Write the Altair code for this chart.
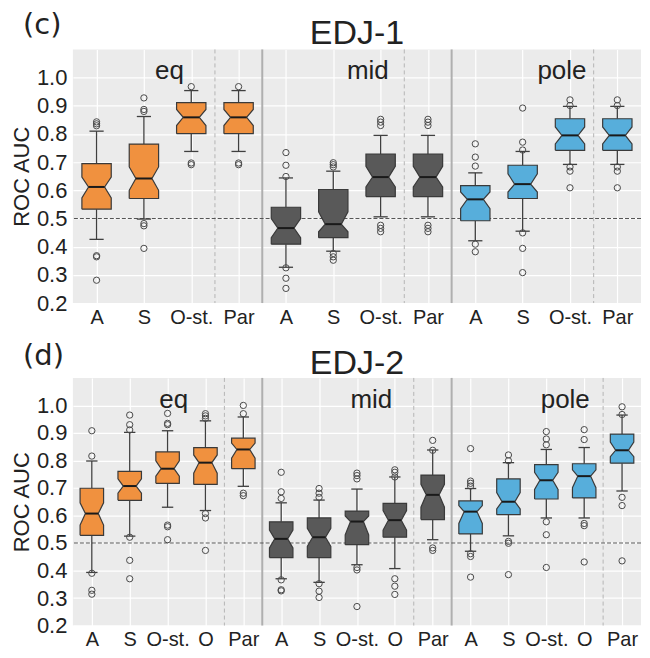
import json
import altair as alt
import pandas as pd

ORANGE = "#F0913F"
DGRAY = "#595959"
BLUE = "#57AEDB"
GROUP_COLORS = {"eq": ORANGE, "mid": DGRAY, "pole": BLUE}

# ---------------- Panel (c) EDJ-1 ----------------
c_cats = ["A", "S", "O-st.", "Par"] * 3
c_groups = ["eq"] * 4 + ["mid"] * 4 + ["pole"] * 4
c_lo = [0.426, 0.498, 0.738, 0.738, 0.327, 0.384, 0.506, 0.506, 0.421, 0.455, 0.692, 0.692]
c_q1 = [0.533, 0.571, 0.801, 0.801, 0.409, 0.432, 0.578, 0.578, 0.492, 0.571, 0.742, 0.742]
c_nlo = [0.573, 0.600, 0.830, 0.830, 0.432, 0.453, 0.612, 0.612, 0.535, 0.594, 0.765, 0.765]
c_med = [0.612, 0.642, 0.859, 0.859, 0.466, 0.480, 0.647, 0.647, 0.568, 0.622, 0.795, 0.795]
c_nhi = [0.647, 0.683, 0.887, 0.887, 0.500, 0.524, 0.685, 0.685, 0.594, 0.659, 0.825, 0.825]
c_q3 = [0.695, 0.764, 0.911, 0.911, 0.540, 0.603, 0.729, 0.729, 0.617, 0.689, 0.854, 0.854]
c_hi = [0.810, 0.862, 0.954, 0.954, 0.644, 0.668, 0.795, 0.795, 0.662, 0.738, 0.898, 0.898]
c_out = [
    [0.843, 0.836, 0.829, 0.368, 0.364, 0.281],
    [0.928, 0.887, 0.880, 0.482, 0.474, 0.394],
    [0.968, 0.697, 0.691],
    [0.968, 0.697, 0.691],
    [0.734, 0.689, 0.649, 0.325, 0.288, 0.252],
    [0.698, 0.691, 0.683, 0.376, 0.364, 0.352],
    [0.852, 0.842, 0.830, 0.476, 0.465, 0.453],
    [0.852, 0.842, 0.830, 0.476, 0.465, 0.453],
    [0.765, 0.718, 0.686, 0.409, 0.382],
    [0.892, 0.771, 0.743, 0.449, 0.394, 0.308],
    [0.921, 0.901, 0.683, 0.668, 0.609],
    [0.921, 0.901, 0.683, 0.668, 0.609],
]
c_group_names = ["eq", "mid", "pole"]
c_group_x = [1.54, 5.73, 9.83]
c_group_y = [1.025, 1.025, 1.025]
c_solid = [3.5, 7.5]
c_dashed = [2.5, 6.5, 10.5]

# ---------------- Panel (d) EDJ-2 ----------------
d_cats = ["A", "S", "O-st.", "O", "Par"] * 3
d_groups = ["eq"] * 5 + ["mid"] * 5 + ["pole"] * 5
d_lo = [0.393, 0.525, 0.630, 0.618, 0.706, 0.370, 0.357, 0.421, 0.407, 0.512, 0.470, 0.526, 0.591, 0.591, 0.689]
d_q1 = [0.528, 0.655, 0.717, 0.713, 0.770, 0.447, 0.447, 0.494, 0.521, 0.585, 0.533, 0.603, 0.660, 0.664, 0.790]
d_nlo = [0.565, 0.681, 0.743, 0.754, 0.808, 0.482, 0.488, 0.530, 0.547, 0.630, 0.571, 0.624, 0.695, 0.701, 0.814]
d_med = [0.607, 0.707, 0.770, 0.792, 0.840, 0.515, 0.521, 0.578, 0.583, 0.675, 0.614, 0.650, 0.728, 0.743, 0.837]
d_nhi = [0.646, 0.733, 0.799, 0.820, 0.863, 0.547, 0.553, 0.598, 0.618, 0.713, 0.636, 0.683, 0.757, 0.766, 0.867]
d_q3 = [0.699, 0.760, 0.831, 0.847, 0.881, 0.577, 0.591, 0.616, 0.644, 0.747, 0.653, 0.733, 0.785, 0.788, 0.896]
d_hi = [0.798, 0.902, 0.908, 0.944, 0.958, 0.646, 0.656, 0.696, 0.740, 0.838, 0.698, 0.792, 0.840, 0.847, 0.965]
d_out = [
    [0.908, 0.816, 0.390, 0.328, 0.314],
    [0.965, 0.930, 0.911, 0.521, 0.437, 0.370],
    [0.971, 0.935, 0.930, 0.565, 0.559, 0.512],
    [0.970, 0.962, 0.953, 0.607, 0.591, 0.473],
    [1.000, 0.970, 0.681, 0.672],
    [0.757, 0.686, 0.662, 0.366, 0.330, 0.326],
    [0.698, 0.681, 0.666, 0.352, 0.325, 0.302],
    [0.754, 0.745, 0.733, 0.411, 0.402, 0.269],
    [0.766, 0.757, 0.740, 0.370, 0.343, 0.313],
    [0.873, 0.837, 0.482, 0.473],
    [0.843, 0.725, 0.717, 0.707, 0.461, 0.451, 0.376],
    [0.820, 0.799, 0.506, 0.499, 0.385],
    [0.905, 0.878, 0.857, 0.577, 0.530, 0.411],
    [0.912, 0.876, 0.571, 0.563, 0.431],
    [0.995, 0.967, 0.666, 0.636, 0.435],
]
d_group_names = ["eq", "mid", "pole"]
d_group_x = [2.16, 7.38, 12.5]
d_group_y = [1.02, 1.02, 1.02]
d_solid = [4.5, 9.5]
d_dashed = [3.5, 8.5, 13.5]

Y_TICKS = [0.2, 0.3, 0.4, 0.5, 0.6, 0.7, 0.8, 0.9, 1.0]
FONT = "Liberation Sans"
W_BOX = 0.31   # half box width (x units)
W_NOTCH = 0.17  # half width at the median
W_CAP = 0.15   # half whisker-cap width
PLOT_W = 569


def panel(cats, groups, lo, q1, nlo, med, nhi, q3, hi, outs,
          gnames, gx, gy, solid, dashed, title, tag, width, height, title_y, tag_y):
    n = len(cats)
    xs = alt.Scale(domain=[-0.5, n - 0.5], nice=False, zero=False)
    ys = alt.Scale(domain=[0.2, 1.1], nice=False, zero=False)
    label_expr = "%s[datum.value]" % json.dumps(cats)
    xax = alt.Axis(
        values=list(range(n)), labelExpr=label_expr, title=None,
        grid=True, gridColor="white", gridWidth=1.2, domain=False, ticks=False,
        labelPadding=4, labelFontSize=20, labelOverlap=False, labelFlush=False,
        labelFont=FONT, labelColor="#222")
    yax = alt.Axis(
        values=Y_TICKS, format=".1f", title="ROC AUC", grid=True,
        gridColor="white", gridWidth=1.2, domain=False, ticks=False,
        labelPadding=6, labelFontSize=22, labelFont=FONT, labelColor="#222",
        titleFontSize=22, titleFont=FONT, titleFontWeight="normal",
        titleColor="#222", titlePadding=3, labelFlush=False, labelOverlap=False)

    def X(f, **kw):
        return alt.X(f, scale=xs, axis=xax, title=None, **kw)

    def Y(f, **kw):
        return alt.Y(f, scale=ys, axis=yax, title="ROC AUC", **kw)

    stats = pd.DataFrame({
        "pos": list(range(n)), "cat": cats, "grp": groups,
        "lo": lo, "q1": q1, "nlo": nlo, "med": med, "nhi": nhi, "q3": q3, "hi": hi,
    })
    stats["color"] = stats["grp"].map(GROUP_COLORS)

    # polygon vertices of the notched boxes
    shape = [(-W_BOX, "q1"), (-W_BOX, "nlo"), (-W_NOTCH, "med"), (-W_BOX, "nhi"),
             (-W_BOX, "q3"), (W_BOX, "q3"), (W_BOX, "nhi"), (W_NOTCH, "med"),
             (W_BOX, "nlo"), (W_BOX, "q1"), (-W_BOX, "q1")]
    rows = []
    for _, r in stats.iterrows():
        for k, (dx, f) in enumerate(shape):
            rows.append({"box": r["pos"], "k": k, "x": r["pos"] + dx, "y": r[f],
                         "color": r["color"]})
    poly = pd.DataFrame(rows)

    out_rows = []
    for i, vals in enumerate(outs):
        for v in vals:
            out_rows.append({"pos": i, "v": v})
    outdf = pd.DataFrame(out_rows)

    base = alt.Chart(stats).mark_point(opacity=0).encode(x=X("pos:Q"), y=Y("med:Q"))

    solid_r = alt.Chart(pd.DataFrame({"x": solid})).mark_rule(
        color="#AFAFAF", strokeWidth=2).encode(x=X("x:Q"))
    dashed_r = alt.Chart(pd.DataFrame({"x": dashed})).mark_rule(
        color="#B5B5B5", strokeWidth=1, strokeDash=[4, 3]).encode(x=X("x:Q"))
    ref = alt.Chart(pd.DataFrame({"y": [0.5]})).mark_rule(
        color="#555555", strokeWidth=1.1, strokeDash=[4, 2]).encode(y=Y("y:Q"))

    wlow = alt.Chart(stats).mark_rule(color="#3f3f3f", strokeWidth=1.3).encode(
        x=X("pos:Q"), y=Y("lo:Q"), y2="q1:Q")
    whigh = alt.Chart(stats).mark_rule(color="#3f3f3f", strokeWidth=1.3).encode(
        x=X("pos:Q"), y=Y("q3:Q"), y2="hi:Q")
    caps = alt.Chart(stats).transform_calculate(
        xa="datum.pos - %f" % W_CAP, xb="datum.pos + %f" % W_CAP
    ).transform_fold(["lo", "hi"], as_=["which", "yv"]).mark_rule(
        color="#3f3f3f", strokeWidth=1.3).encode(x=X("xa:Q"), x2="xb:Q", y=Y("yv:Q"))

    boxes = alt.Chart(poly).mark_line(stroke="#3a3a3a", strokeWidth=1.2, strokeJoin="miter").encode(
        x=X("x:Q"), y=Y("y:Q"),
        order="k:Q", detail="box:N", fill=alt.Fill("color:N", scale=None))

    medians = alt.Chart(stats).transform_calculate(
        xa="datum.pos - %f" % W_NOTCH, xb="datum.pos + %f" % W_NOTCH
    ).mark_rule(color="#1a1a1a", strokeWidth=2).encode(x=X("xa:Q"), x2="xb:Q", y=Y("med:Q"))

    pts = alt.Chart(outdf).mark_point(shape="circle", filled=False, size=40,
                                      stroke="#4a4a4a", strokeWidth=1, opacity=1).encode(
        x=X("pos:Q"), y=Y("v:Q"))

    glab = alt.Chart(pd.DataFrame({"g": gnames, "x": gx, "y": gy})).mark_text(
        fontSize=26, font=FONT, color="#222", baseline="middle", align="center").encode(
        x=X("x:Q"), y=Y("y:Q"), text="g:N")

    ttl = alt.Chart(pd.DataFrame({"t": [title]})).mark_text(
        fontSize=34, font=FONT, color="#222", baseline="alphabetic", align="center").encode(
        x=alt.value(width / 2), y=alt.value(title_y), text="t:N")
    tg = alt.Chart(pd.DataFrame({"t": [tag]})).mark_text(
        fontSize=29, font="DejaVu Sans", color="#222", baseline="middle", align="left").encode(
        x=alt.value(-50), y=alt.value(tag_y), text="t:N")

    return alt.layer(base, solid_r, dashed_r, ref, wlow, whigh, caps, boxes, medians,
                     pts, glab, ttl, tg).properties(width=width, height=height)


top = panel(c_cats, c_groups, c_lo, c_q1, c_nlo, c_med, c_nhi, c_q3, c_hi, c_out,
            c_group_names, c_group_x, c_group_y, c_solid, c_dashed, "EDJ-1", "(c)",
            PLOT_W, 254, -5, -24.5)
bottom = panel(d_cats, d_groups, d_lo, d_q1, d_nlo, d_med, d_nhi, d_q3, d_hi, d_out,
               d_group_names, d_group_x, d_group_y, d_solid, d_dashed, "EDJ-2", "(d)",
               PLOT_W, 248, -4, -21.5)

chart = alt.vconcat(top, bottom, spacing=75, bounds="flush").properties(
    padding={"left": 2, "top": 2, "right": 0, "bottom": 0}
).configure_view(fill="#EBEBEB", stroke=None)

chart.save("out.html", embed_options={"renderer": "svg", "actions": False})
